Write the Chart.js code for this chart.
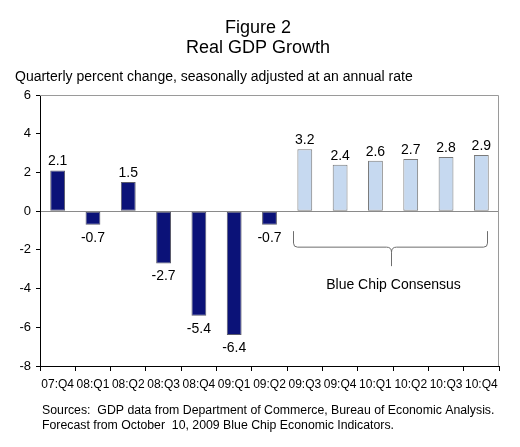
<!DOCTYPE html>
<html>
<head>
<meta charset="utf-8">
<script src="https://cdn.jsdelivr.net/npm/chart.js@4"></script>
<style>
html,body{margin:0;padding:0;background:#fff;}
#wrap{width:520px;height:447px;position:relative;}
</style>
</head>
<body>
<div id="wrap"><canvas id="c" width="520" height="447"></canvas></div>
<script>
const categories = ['07:Q4','08:Q1','08:Q2','08:Q3','08:Q4','09:Q1','09:Q2','09:Q3','09:Q4','10:Q1','10:Q2','10:Q3','10:Q4'];
const actualValues = [2.1, -0.7, 1.5, -2.7, -5.4, -6.4, -0.7, null, null, null, null, null, null];
const forecastValues = [null, null, null, null, null, null, null, 3.2, 2.4, 2.6, 2.7, 2.8, 2.9];
const yTicks = [-8, -6, -4, -2, 0, 2, 4, 6];
const titleLines = ['Figure 2', 'Real GDP Growth'];
const subtitleText = 'Quarterly percent change, seasonally adjusted at an annual rate';
const sourceLines = ['Sources:  GDP data from Department of Commerce, Bureau of Economic Analysis.', 'Forecast from October  10, 2009 Blue Chip Economic Indicators.'];
const braceLabel = 'Blue Chip Consensus';
const braceFrom = 7, braceTo = 12;

const FONT = '"Liberation Sans", Arial, sans-serif';

const textPlugin = {
  id: 'texts',
  afterDraw(chart) {
    const ctx = chart.ctx;
    const ca = chart.chartArea;
    ctx.save();
    ctx.fillStyle = '#000';
    ctx.textBaseline = 'alphabetic';
    ctx.textAlign = 'center';
    ctx.font = '18px ' + FONT;
    ctx.fillText(titleLines[0], 258, 33);
    ctx.fillText(titleLines[1], 258, 53);
    ctx.textAlign = 'left';
    ctx.font = '14px ' + FONT;
    ctx.fillText(subtitleText, 15, 81);
    ctx.font = '12.3px ' + FONT;
    ctx.fillText(sourceLines[0], 42, 414);
    ctx.fillText(sourceLines[1], 42, 429);
    // top & right border
    ctx.strokeStyle = '#9a9a9a';
    ctx.lineWidth = 1;
    ctx.beginPath();
    ctx.moveTo(ca.left, ca.top + 0.5);
    ctx.lineTo(ca.right - 0.5, ca.top + 0.5);
    ctx.lineTo(ca.right - 0.5, ca.bottom);
    ctx.stroke();
    ctx.restore();
  }
};

const labelPlugin = {
  id: 'barLabels',
  afterDatasetsDraw(chart) {
    const ctx = chart.ctx;
    ctx.save();
    ctx.font = '14px ' + FONT;
    ctx.fillStyle = '#000';
    ctx.textAlign = 'center';
    chart.data.datasets.forEach((ds, di) => {
      const meta = chart.getDatasetMeta(di);
      meta.data.forEach((el, i) => {
        const v = ds.data[i];
        if (v === null || v === undefined) return;
        if (v >= 0) {
          ctx.textBaseline = 'alphabetic';
          ctx.fillText(v.toFixed(1), el.x, el.y - 5);
        } else {
          ctx.textBaseline = 'top';
          ctx.fillText(v.toFixed(1), el.x, el.y + 6);
        }
      });
    });
    ctx.restore();
  }
};

const bracePlugin = {
  id: 'brace',
  afterDraw(chart) {
    const xs = chart.scales.x;
    const ys = chart.scales.y;
    const ctx = chart.ctx;
    const L = Math.round(xs.getPixelForValue(braceFrom) - 12) + 0.5;
    const R = Math.round(xs.getPixelForValue(braceTo) + 6) + 0.5;
    const M = Math.round((L + R) / 2) + 0.5;
    const top = ys.getPixelForValue(0) + 20;
    const mid = top + 16;
    const tip = top + 35;
    ctx.save();
    ctx.strokeStyle = '#6e6e6e';
    ctx.lineWidth = 1;
    ctx.beginPath();
    ctx.moveTo(L, top);
    ctx.lineTo(L, mid - 4);
    ctx.quadraticCurveTo(L, mid, L + 4, mid);
    ctx.lineTo(M - 5, mid);
    ctx.quadraticCurveTo(M, mid, M, mid + 5);
    ctx.lineTo(M, tip);
    ctx.moveTo(R, top);
    ctx.lineTo(R, mid - 4);
    ctx.quadraticCurveTo(R, mid, R - 4, mid);
    ctx.lineTo(M + 5, mid);
    ctx.quadraticCurveTo(M, mid, M, mid + 5);
    ctx.stroke();
    ctx.fillStyle = '#000';
    ctx.font = '14px ' + FONT;
    ctx.textAlign = 'center';
    ctx.textBaseline = 'alphabetic';
    ctx.fillText(braceLabel, M + 2, tip + 23);
    ctx.restore();
  }
};

new Chart(document.getElementById('c'), {
  type: 'bar',
  data: {
    labels: categories,
    datasets: [
      { label: 'Actual', data: actualValues, backgroundColor: '#0B1278', borderColor: '#5a5a6a', borderWidth: 1, barPercentage: 0.42, categoryPercentage: 1, grouped: false, borderSkipped: false },
      { label: 'Blue Chip Consensus', data: forecastValues, backgroundColor: '#C6D9F0', borderColor: '#7a7a7a', borderWidth: 1, barPercentage: 0.42, categoryPercentage: 1, grouped: false, borderSkipped: false }
    ]
  },
  options: {
    responsive: false,
    animation: false,
    devicePixelRatio: 1,
    layout: { padding: { top: 95, right: 21, bottom: 51, left: 0 } },
    plugins: { legend: { display: false }, tooltip: { enabled: false }, title: { display: false } },
    scales: {
      x: {
        afterFit(s) { s.height = 30; },
        border: { display: true, color: '#000', width: 1 },
        grid: { offset: true, drawOnChartArea: false, drawTicks: true, tickLength: 5, tickColor: '#000' },
        ticks: { color: '#000', font: { family: FONT, size: 12 }, padding: 6, maxRotation: 0, autoSkip: false }
      },
      y: {
        min: -8, max: 6,
        afterFit(s) { s.width = 40; },
        afterBuildTicks(s) { s.ticks = yTicks.map(v => ({ value: v })); },
        border: { display: true, color: '#000', width: 1 },
        grid: {
          drawTicks: true, tickLength: 4, tickColor: '#000',
          color: ctx => (ctx.tick && ctx.tick.value === 0) ? '#8a8a8a' : 'rgba(0,0,0,0)'
        },
        ticks: { color: '#000', font: { family: FONT, size: 13 }, padding: 5, stepSize: 2 }
      }
    }
  },
  plugins: [labelPlugin, bracePlugin, textPlugin]
});
</script>
</body>
</html>
